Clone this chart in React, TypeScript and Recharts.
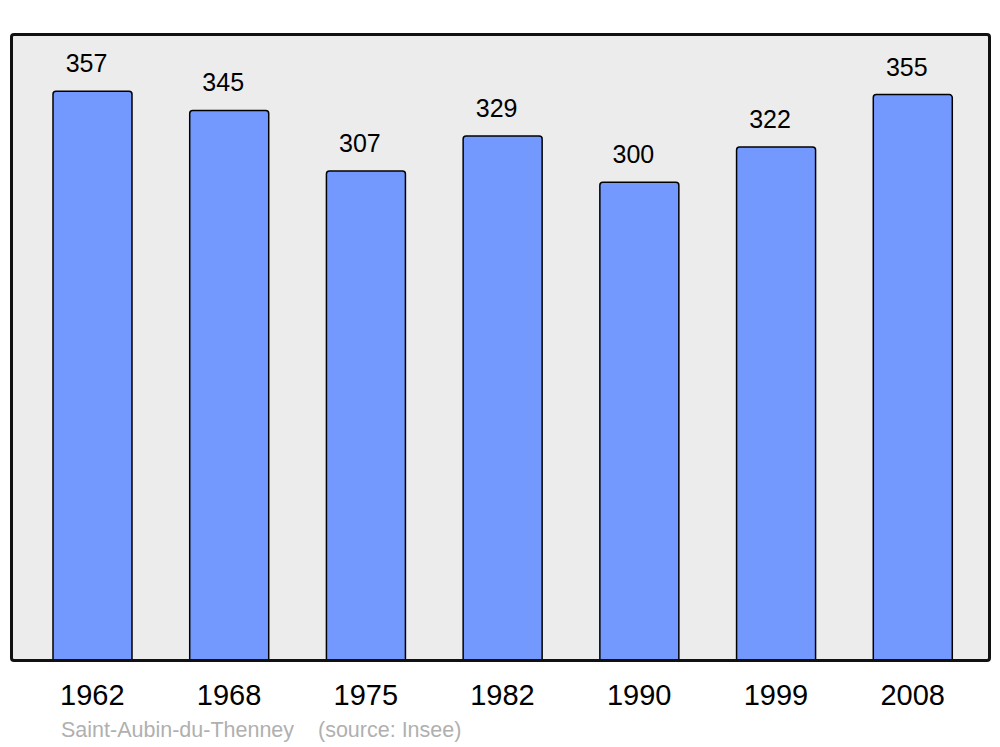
import React from "react";
import { BarChart, Bar, XAxis, YAxis, CartesianGrid } from "recharts";

const years = ["1962", "1968", "1975", "1982", "1990", "1999", "2008"];
const population = [357, 345, 307, 329, 300, 322, 355];
const yMax = 393;

const data = years.map((year, i) => ({ year, population: population[i] }));

const font = "'Liberation Sans', Arial, sans-serif";

const renderValue = (props: any) => {
  const { x, y, width, value } = props;
  return (
    <text
      x={Number(x) + Number(width) / 2 - 6}
      y={Number(y) - 19}
      textAnchor="middle"
      fontSize={25}
      fontFamily={font}
      fill="#000"
    >
      {value}
    </text>
  );
};

export default function App() {
  return (
    <div style={{ position: "absolute", left: 0, top: 0, width: 1000, height: 747, background: "#fff" }}>
      <BarChart
        width={1000}
        height={747}
        data={data}
        margin={{ top: 34, right: 11, left: 11, bottom: 0 }}
        barSize={79}
      >
        <CartesianGrid horizontal={false} vertical={false} fill="#ececec" />
        <XAxis
          dataKey="year"
          height={87}
          axisLine={false}
          tickLine={false}
          tickMargin={18}
          padding={{ left: 13, right: 8 }}
          tick={{ fontSize: 29, fill: "#000", fontFamily: font }}
          interval={0}
        />
        <YAxis hide domain={[0, yMax]} />
        <Bar
          dataKey="population"
          fill="#7399ff"
          stroke="#000"
          strokeWidth={1.5}
          radius={[3, 3, 0, 0]}
          isAnimationActive={false}
          label={renderValue}
        />
      </BarChart>
      {/* plot frame */}
      <div
        style={{
          position: "absolute",
          left: 9.5,
          top: 32.5,
          width: 981,
          height: 629,
          boxSizing: "border-box",
          border: "3px solid #111",
          borderRadius: 4,
          pointerEvents: "none",
        }}
      />
      <div style={{ position: "absolute", left: 61, top: 718, fontSize: 21.5, fontFamily: font, color: "#b0b0b0", whiteSpace: "pre" }}>
        Saint-Aubin-du-Thenney
      </div>
      <div style={{ position: "absolute", left: 318, top: 718, fontSize: 21.5, fontFamily: font, color: "#b0b0b0", whiteSpace: "pre" }}>
        (source: Insee)
      </div>
    </div>
  );
}
